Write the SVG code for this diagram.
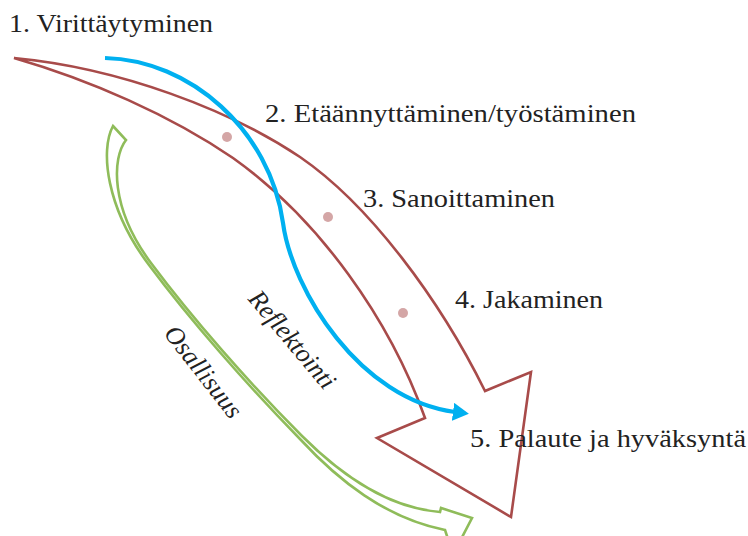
<svg xmlns="http://www.w3.org/2000/svg" width="748" height="536" viewBox="0 0 748 536">
  <style>
    .lbl { font-family: "Liberation Serif", "Times New Roman", serif; font-size: 26px; fill: #222222; }
    .ital { font-family: "Liberation Serif", "Times New Roman", serif; font-size: 26px; font-style: italic; fill: #222222; }
    .red { fill: none; stroke: #a84b4a; stroke-width: 2.6; stroke-linejoin: miter; }
    .green { fill: none; stroke: #8fbc5a; stroke-width: 2.6; stroke-linejoin: miter; }
    .blue { fill: none; stroke: #00b0f0; stroke-width: 4.2; }
    .dot { fill: #d4a6a6; }
  </style>
  <defs>
    <marker id="blueHead" markerUnits="userSpaceOnUse" viewBox="0 0 16 18" markerWidth="16" markerHeight="18" refX="2" refY="9" orient="auto">
      <path d="M0,0 L16,9 L0,18 Z" fill="#00b0f0"/>
    </marker>
  </defs>
  <rect width="748" height="536" fill="#ffffff"/>

  <g id="process-arrow">
    <path class="red" d="M14,58 C120,68 230,110 300,157 C370,205 440,300 485,391 L531,372 L511,517 L377,438 L425,418 C390,320 320,220 233,158 C170,115 90,80 14,58 Z"/>
  </g>

  <g id="osallisuus-arrow">
    <path class="green" d="M113,126 L126,140 C112,158 110,208 151,263 C192,318 250,384 302,436 C340,474 388,508 440,512 L441,508 L472,518 L458,545 L450,545 L445,530 C385,518 338,480 300,439 C248,386 190,320 149,265 C106,208 100,150 113,126 Z"/>
  </g>

  <g id="connectors">
    <path class="blue" d="M105,58 C190,60 270,130 283,223 C292,290 360,400 455,412" marker-end="url(#blueHead)"/>
  </g>

  <g id="step-dots">
    <circle class="dot" cx="227" cy="137" r="5"/>
    <circle class="dot" cx="328" cy="217" r="5"/>
    <circle class="dot" cx="403" cy="313" r="5"/>
  </g>

  <g id="step1"><text class="lbl" x="9" y="32" textLength="204" lengthAdjust="spacingAndGlyphs">1. Virittäytyminen</text></g>
  <g id="step2"><text class="lbl" x="265" y="122" textLength="371" lengthAdjust="spacingAndGlyphs">2. Etäännyttäminen/työstäminen</text></g>
  <g id="step3"><text class="lbl" x="363" y="207" textLength="192" lengthAdjust="spacingAndGlyphs">3. Sanoittaminen</text></g>
  <g id="step4"><text class="lbl" x="455" y="308" textLength="148" lengthAdjust="spacingAndGlyphs">4. Jakaminen</text></g>
  <g id="step5"><text class="lbl" x="470" y="447" textLength="276" lengthAdjust="spacingAndGlyphs">5. Palaute ja hyväksyntä</text></g>

  <g id="reflektointi-label">
    <text class="ital" transform="translate(292,340) rotate(50)" x="0" y="8" text-anchor="middle">Reflektointi</text>
  </g>
  <g id="osallisuus-label">
    <text class="ital" transform="translate(203,372) rotate(52)" x="0" y="8" text-anchor="middle">Osallisuus</text>
  </g>
</svg>
